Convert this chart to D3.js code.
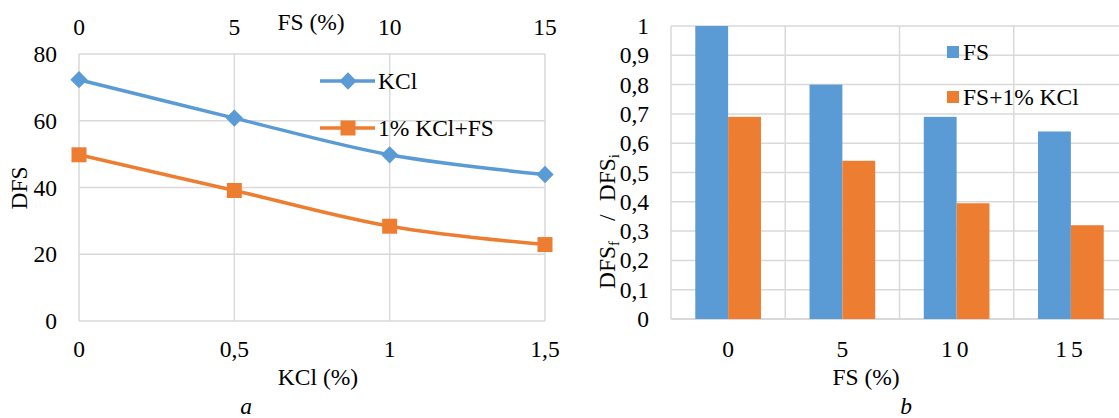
<!DOCTYPE html>
<html>
<head>
<meta charset="utf-8">
<script src="https://cdn.jsdelivr.net/npm/d3@7"></script>
<style>
html,body{margin:0;padding:0;background:#fff;}
svg{display:block;}
text{font-family:"Liberation Serif","Times New Roman","DejaVu Serif",serif;fill:#000;}
</style>
</head>
<body>
<svg id="chart" width="1119" height="418"></svg>
<script>
// ---- Data (chart a) ----
const kclPct = [0, 0.5, 1, 1.5];
const kclTickLabels = ["0", "0,5", "1", "1,5"];
const fsTopTicks = [0, 5, 10, 15];
const fsTopLabels = ["0", "5", "10", "15"];
const dfsKCl = [72.3, 60.8, 49.8, 43.9];
const dfsKClFS = [49.8, 39.1, 28.4, 22.9];
const dfsTicks = [0, 20, 40, 60, 80];
const seriesNamesA = ["KCl", "1% KCl+FS"];

// ---- Data (chart b) ----
const fsCategories = ["0", "5", "10", "15"];
const ratioFS = [1, 0.8, 0.69, 0.64];
const ratioFSKCl = [0.69, 0.54, 0.395, 0.32];
const ratioTicks = [0, 0.1, 0.2, 0.3, 0.4, 0.5, 0.6, 0.7, 0.8, 0.9, 1];
const ratioTickLabels = ["0", "0,1", "0,2", "0,3", "0,4", "0,5", "0,6", "0,7", "0,8", "0,9", "1"];
const seriesNamesB = ["FS", "FS+1% KCl"];

const BLUE = "#5b9bd5", ORANGE = "#ed7d31", GRID = "#d9d9d9";
const FS = 23.5;
const FF = "'Liberation Serif','Times New Roman','DejaVu Serif',serif";

const svg = d3.select("#chart").attr("font-family", FF);

// ================= Chart a =================
const A = {left: 79, right: 545, top: 54, bottom: 321};
const xK = d3.scaleLinear().domain([0, 1.5]).range([A.left, A.right]);
const xF = d3.scaleLinear().domain([0, 15]).range([A.left, A.right]);
const yA = d3.scaleLinear().domain([0, 80]).range([A.bottom, A.top]);

const gA = svg.append("g");
gA.selectAll("line.hg").data(dfsTicks).join("line")
  .attr("x1", A.left).attr("x2", A.right)
  .attr("y1", d => yA(d)).attr("y2", d => yA(d))
  .attr("stroke", GRID).attr("stroke-width", 1.5);
gA.selectAll("line.vg").data(kclPct).join("line")
  .attr("x1", d => xK(d)).attr("x2", d => xK(d))
  .attr("y1", A.top).attr("y2", A.bottom)
  .attr("stroke", GRID).attr("stroke-width", 1.5);

gA.selectAll("text.yl").data(dfsTicks).join("text")
  .attr("x", A.left - 22).attr("y", d => yA(d) + 8)
  .attr("text-anchor", "end").attr("font-size", FS).text(d => d);
gA.selectAll("text.xl").data(kclPct).join("text")
  .attr("x", d => xK(d)).attr("y", 357)
  .attr("text-anchor", "middle").attr("font-size", FS).text((d, i) => kclTickLabels[i]);
gA.selectAll("text.tl").data(fsTopTicks).join("text")
  .attr("x", d => xF(d)).attr("y", 35)
  .attr("text-anchor", "middle").attr("font-size", FS).text((d, i) => fsTopLabels[i]);

gA.append("text").attr("x", 311).attr("y", 30).attr("text-anchor", "middle")
  .attr("font-size", FS).text("FS (%)");
gA.append("text").attr("x", 318).attr("y", 385).attr("text-anchor", "middle")
  .attr("font-size", FS).text("KCl (%)");
gA.append("text").attr("transform", "translate(27,188) rotate(-90)")
  .attr("text-anchor", "middle").attr("font-size", FS).text("DFS");
gA.append("text").attr("x", 246).attr("y", 414).attr("text-anchor", "middle")
  .attr("font-size", FS).attr("font-style", "italic").text("a");

const lineGen = d3.line().x(d => xK(d[0])).y(d => yA(d[1])).curve(d3.curveCatmullRom.alpha(0.5));
const seriesA = [
  {name: seriesNamesA[0], vals: dfsKCl, color: BLUE, sym: "diamond"},
  {name: seriesNamesA[1], vals: dfsKClFS, color: ORANGE, sym: "square"}
];
const diamond = d3.symbol(d3.symbolSquare, 150);
const square = d3.symbol(d3.symbolSquare, 225);

seriesA.forEach(s => {
  const pts = kclPct.map((x, i) => [x, s.vals[i]]);
  gA.append("path").attr("d", lineGen(pts)).attr("fill", "none")
    .attr("stroke", s.color).attr("stroke-width", 3.5);
  gA.selectAll(null).data(pts).join("path")
    .attr("d", s.sym === "diamond" ? diamond() : square())
    .attr("transform", d => `translate(${xK(d[0])},${yA(d[1])})` + (s.sym === "diamond" ? " rotate(45)" : ""))
    .attr("fill", s.color);
});

const legA = [81, 128];
seriesA.forEach((s, i) => {
  const y = legA[i];
  gA.append("line").attr("x1", 320).attr("x2", 375).attr("y1", y).attr("y2", y)
    .attr("stroke", s.color).attr("stroke-width", 3.5);
  gA.append("path").attr("d", s.sym === "diamond" ? diamond() : square())
    .attr("transform", `translate(348,${y})` + (s.sym === "diamond" ? " rotate(45)" : ""))
    .attr("fill", s.color);
  gA.append("text").attr("x", 378).attr("y", y + 8).attr("font-size", FS).text(s.name);
});

// ================= Chart b =================
const B = {left: 671, right: 1128, top: 26, bottom: 319};
const xB = d3.scaleBand().domain(fsCategories).range([B.left, B.right]).paddingInner(0).paddingOuter(0);
const yB = d3.scaleLinear().domain([0, 1]).range([B.bottom, B.top]);
const pairW = xB.bandwidth() * 0.575;
const xSub = d3.scaleBand().domain([0, 1]).range([0, pairW]);

const gB = svg.append("g");
gB.selectAll("line.hg").data(ratioTicks).join("line")
  .attr("x1", B.left).attr("x2", B.right)
  .attr("y1", d => yB(d)).attr("y2", d => yB(d))
  .attr("stroke", GRID).attr("stroke-width", d => d === 0 ? 2 : 1.5);
const vEdges = fsCategories.map(c => xB(c)).concat([B.right]);
gB.selectAll("line.vg").data(vEdges).join("line")
  .attr("x1", d => d).attr("x2", d => d)
  .attr("y1", B.top).attr("y2", B.bottom)
  .attr("stroke", GRID).attr("stroke-width", 1.5);

const seriesB = [
  {name: seriesNamesB[0], vals: ratioFS, color: BLUE},
  {name: seriesNamesB[1], vals: ratioFSKCl, color: ORANGE}
];
seriesB.forEach((s, si) => {
  gB.selectAll(null).data(fsCategories).join("rect")
    .attr("x", c => xB(c) + (xB.bandwidth() - pairW) / 2 + xSub(si))
    .attr("width", xSub.bandwidth())
    .attr("y", (c, i) => yB(s.vals[i]))
    .attr("height", (c, i) => yB(0) - yB(s.vals[i]))
    .attr("fill", s.color);
});

gB.selectAll("text.yl").data(ratioTicks).join("text")
  .attr("x", B.left - 22).attr("y", d => yB(d) + 8)
  .attr("text-anchor", "end").attr("font-size", FS).text((d, i) => ratioTickLabels[i]);
gB.selectAll("text.xl").data(fsCategories).join("text")
  .attr("x", c => xB(c) + xB.bandwidth() / 2).attr("y", 357)
  .attr("text-anchor", "middle").attr("font-size", FS)
  .attr("letter-spacing", c => c.length > 1 ? 4 : 0).text(c => c);

gB.append("text").attr("x", 866).attr("y", 385).attr("text-anchor", "middle")
  .attr("font-size", FS).text("FS (%)");
gB.append("text").attr("x", 906).attr("y", 414).attr("text-anchor", "middle")
  .attr("font-size", FS).attr("font-style", "italic").text("b");

const yt = gB.append("text").attr("transform", "translate(615,289) rotate(-90)")
  .attr("text-anchor", "start").attr("font-size", FS);
yt.append("tspan").text("DFS");
yt.append("tspan").attr("font-size", 15).attr("dy", 4).text("f");
yt.append("tspan").attr("dy", -4).attr("dx", 20).text("/");
yt.append("tspan").attr("dx", 13).text("DFS");
yt.append("tspan").attr("font-size", 15).attr("dy", 4).text("i");

const legB = [52, 97];
seriesB.forEach((s, i) => {
  gB.append("rect").attr("x", 947).attr("y", legB[i] - 6).attr("width", 12).attr("height", 12)
    .attr("fill", s.color);
  gB.append("text").attr("x", 963).attr("y", legB[i] + 8).attr("font-size", FS).text(s.name);
});
</script>
</body>
</html>
